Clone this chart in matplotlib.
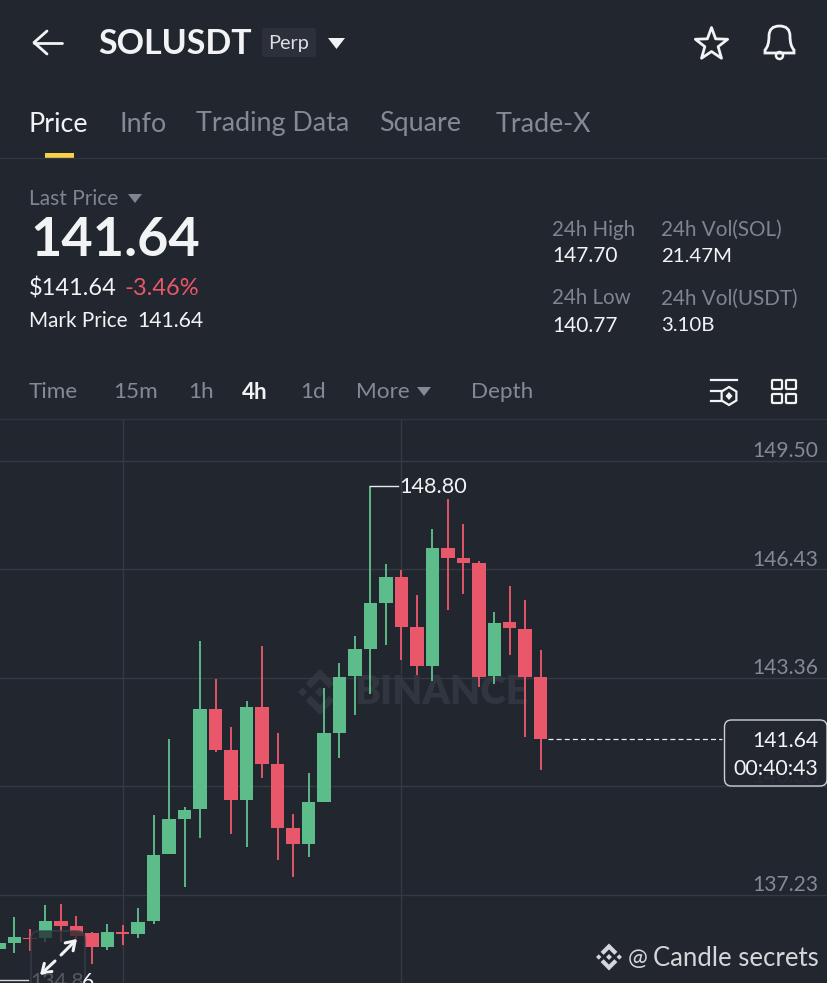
import numpy as np
import matplotlib
matplotlib.use("Agg")
import matplotlib.pyplot as plt
from matplotlib.patches import FancyBboxPatch, Polygon, Rectangle, Circle
from matplotlib.path import Path
from matplotlib.patches import PathPatch

plt.rcParams['font.family'] = ['Lato', 'DejaVu Sans']

# candles, oldest first (4h SOLUSDT)
opens = [135.69, 135.86, 136.01, 136.00, 136.48, 136.34, 136.15, 135.76, 136.18, 136.11,
         136.48, 138.37, 139.37, 139.65, 142.48, 141.33, 139.92, 142.53, 140.93, 139.11,
         138.65, 139.86, 141.80, 143.42, 144.18, 145.47, 146.22, 144.79, 143.69, 147.03,
         146.76, 146.62, 143.42, 144.94, 144.76, 143.38]
closes = [135.85, 136.03, 135.97, 136.48, 136.33, 136.06, 135.76, 136.18, 136.12, 136.46,
          138.36, 139.37, 139.63, 142.48, 141.33, 139.92, 142.54, 140.93, 139.12, 138.65,
          139.86, 141.79, 143.40, 144.17, 145.47, 146.23, 144.80, 143.70, 147.03, 146.76,
          146.62, 143.40, 144.93, 144.77, 143.39, 141.64]
highs = [135.85, 136.60, 136.26, 136.94, 136.97, 136.63, 136.18, 136.40, 136.37, 136.85,
         139.49, 141.64, 139.72, 144.40, 143.32, 141.98, 142.70, 144.27, 141.80, 139.51,
         140.67, 143.09, 143.79, 144.56, 148.80, 146.58, 146.42, 145.70, 147.57, 148.42,
         147.71, 146.66, 145.22, 145.96, 145.57, 144.14]
lows = [135.69, 135.57, 135.64, 135.90, 135.90, 135.95, 135.27, 135.65, 135.80, 136.01,
        136.41, 138.37, 137.45, 138.83, 141.28, 138.94, 138.57, 140.53, 138.21, 137.73,
        138.29, 139.86, 141.09, 142.32, 142.91, 144.29, 143.86, 143.45, 143.28, 145.27,
        145.75, 143.10, 143.20, 144.00, 141.70, 140.77]
y_ticks = [149.50, 146.43, 143.36, 140.30, 137.23]
last_price = 141.64
max_price = 148.80

tabs = ["Price", "Info", "Trading Data", "Square", "Trade-X"]
tab_x = [29, 120, 196, 379, 496]
periods = ["Time", "15m", "1h", "4h", "1d", "More", "Depth"]
period_x = [29, 113, 188, 242, 300, 356, 471]

BG = '#22262F'
GREEN = '#5DBD8A'
RED = '#E9576A'
GRID = '#353943'
WHITE = '#F2F3F5'
GRAY = '#848A94'
LABEL = '#7F858F'

W, H = 828, 983
fig = plt.figure(figsize=(W / 100, H / 100), dpi=100, facecolor=BG)

under = fig.add_axes([0, 0, 1, 1], zorder=0)
under.set_xlim(0, W)
under.set_ylim(H, 0)
under.axis('off')


def logo(a, cx, cy, s, color, zorder=3):
    # exchange diamond mark: centre and side diamonds plus two chevrons
    def diamond(x, y, r):
        a.add_patch(Polygon([(x - r, y), (x, y - r), (x + r, y), (x, y + r)], closed=True,
                            fc=color, ec='none', zorder=zorder))
    diamond(cx, cy, s * 0.22)
    diamond(cx - s * 0.76, cy, s * 0.2)
    diamond(cx + s * 0.76, cy, s * 0.2)
    for sign in (-1, 1):
        a.add_patch(Polygon([(cx - s * 0.62, cy + sign * s * 0.38), (cx, cy + sign * s),
                             (cx + s * 0.62, cy + sign * s * 0.38), (cx + s * 0.40, cy + sign * s * 0.16),
                             (cx, cy + sign * s * 0.56), (cx - s * 0.40, cy + sign * s * 0.16)],
                            closed=True, fc=color, ec='none', zorder=zorder))


# watermark behind the candles
under.text(441, 693, "BINANCE", color='#31353F', fontsize=28, fontweight='heavy',
           ha='center', va='center')
logo(under, 320, 692, 23, '#31353F')

# chart itself
ax = fig.add_axes([0, 0, 1, (H - 420) / H], zorder=1)
ax.patch.set_alpha(0)
step = 15.48
ax.set_xlim(35 - 540.7 / step, 35 + (W - 540.7) / step)
ax.set_ylim(134.73, 150.66)
ax.set_xticks([])
ax.set_yticks([])
for s in ax.spines.values():
    s.set_visible(False)

for t in y_ticks:
    ax.axhline(t, color=GRID, lw=1, zorder=1)
for gx in (123, 401):
    ax.axvline(35 - (540.7 - gx) / step, color=GRID, lw=1, zorder=1)

xs = np.arange(len(opens))
opens_a, closes_a = np.array(opens), np.array(closes)
colors = [GREEN if c >= o else RED for o, c in zip(opens, closes)]
ax.vlines(xs, lows, highs, colors=colors, lw=1.35, zorder=3)
ax.bar(xs, np.abs(closes_a - opens_a), bottom=np.minimum(opens_a, closes_a), width=0.87,
       color=colors, linewidth=0, zorder=4)

# last price dashed line and max marker
ax.plot([35.5, 35 + (722 - 540.7) / step], [last_price, last_price], color='#E8E9EB', lw=0.9,
        dashes=(4, 2.5), zorder=3)
ax.plot([24, 24 + 1.8], [max_price, max_price], color='#E8E9EB', lw=1, zorder=5)
ax.text(24 + 1.85, max_price - 0.04, f"{max_price:.2f}", color=WHITE, fontsize=15.6, va='center', ha='left', zorder=6)

for t in y_ticks:
    ax.text(35 + (818 - 540.7) / step, t + 0.27, f"{t:.2f}", color=GRAY, fontsize=15.1, ha='right', va='center', zorder=2)

# everything around the chart, in pixel coordinates
ui = fig.add_axes([0, 0, 1, 1], zorder=2)
ui.set_xlim(0, W)
ui.set_ylim(H, 0)
ui.axis('off')
ui.patch.set_alpha(0)

ui.plot([34, 62], [42.5, 42.5], color=WHITE, lw=2, solid_capstyle='round')
ui.plot([47, 34, 47], [31, 42.5, 54], color=WHITE, lw=2, solid_capstyle='round', solid_joinstyle='round')
ui.text(98.5, 44.5, "SOLUSDT", color=WHITE, fontsize=24.5, fontweight='bold', va='center', ha='left')
ui.add_patch(FancyBboxPatch((262, 28), 54, 29, boxstyle="round,pad=0,rounding_size=3", fc='#2C303A', ec='none'))
ui.text(289, 44, "Perp", color='#DDDFE3', fontsize=14.3, va='center', ha='center')
ui.add_patch(Polygon([(328, 38), (345, 38), (336.5, 49)], closed=True, fc=WHITE, ec='none'))

star_r = np.array([17, 7] * 5)
star_a = np.deg2rad(np.arange(10) * 36 - 90)
ui.add_patch(Polygon(np.c_[711.5 + star_r * np.cos(star_a), 44.5 + star_r * np.sin(star_a)], closed=True,
                     fc='none', ec=WHITE, lw=2, joinstyle='round'))

bell = Path([(765, 53), (765, 50), (769, 46), (769, 36), (769, 26), (779.5, 26), (790, 26), (790, 36),
             (790, 46), (794, 50), (794, 53), (765, 53)],
            [Path.MOVETO, Path.LINETO, Path.CURVE3, Path.CURVE3, Path.CURVE3, Path.CURVE3, Path.CURVE3,
             Path.CURVE3, Path.CURVE3, Path.CURVE3, Path.LINETO, Path.CLOSEPOLY])
ui.add_patch(PathPatch(bell, fc='none', ec=WHITE, lw=2))
ui.add_patch(Circle((779.5, 55.5), 3.5, fc='none', ec=WHITE, lw=1.8))

for name, x in zip(tabs, tab_x):
    ui.text(x, 124, name, color=WHITE if name == "Price" else GRAY, fontsize=19.4, va='center', ha='left')
ui.add_patch(Rectangle((45, 153), 29, 5, fc='#F8D24A', ec='none'))
ui.plot([0, W], [158, 158], color='#31353F', lw=1)

ui.text(29, 199, "Last Price", color=LABEL, fontsize=15, va='center')
ui.add_patch(Polygon([(128, 194), (142, 194), (135, 203)], closed=True, fc=LABEL, ec='none'))
ui.text(30.5, 240, "141.64", color=WHITE, fontsize=39, fontweight='bold', va='center')
ui.text(29, 288.5, "$141.64", color=WHITE, fontsize=17, va='center')
ui.text(125, 288.5, "-3.46%", color=RED, fontsize=17, va='center')
ui.text(29, 321, "Mark Price", color=WHITE, fontsize=14.9, va='center')
ui.text(137, 321, "141.64", color=WHITE, fontsize=15.2, va='center')

ui.text(552, 229.5, "24h High", color=LABEL, fontsize=14.8, va='center')
ui.text(552, 256.5, "147.70", color=WHITE, fontsize=15, va='center')
ui.text(552, 298.5, "24h Low", color=LABEL, fontsize=14.8, va='center')
ui.text(552, 325.5, "140.77", color=WHITE, fontsize=15, va='center')
ui.text(661, 229.5, "24h Vol(SOL)", color=LABEL, fontsize=14.9, va='center')
ui.text(661, 256.5, "21.47M", color=WHITE, fontsize=14.7, va='center')
ui.text(661, 298.5, "24h Vol(USDT)", color=LABEL, fontsize=14.9, va='center')
ui.text(661, 325.5, "3.10B", color=WHITE, fontsize=14.7, va='center')

for name, x in zip(periods, period_x):
    active = name == "4h"
    ui.text(x, 392.5, name, color=WHITE if active else GRAY, fontsize=16.2,
            fontweight='bold' if active else 'normal', va='center')
ui.add_patch(Polygon([(417, 387), (431, 387), (424, 396)], closed=True, fc=GRAY, ec='none'))
ui.plot([0, W], [419, 419], color='#31353F', lw=1)

# indicator and layout icons
ui.plot([711, 737], [380, 380], color=WHITE, lw=1.6)
ui.plot([711, 722], [391, 391], color=WHITE, lw=1.6)
ui.plot([711, 722], [401, 401], color=WHITE, lw=1.6)
hex_a = np.deg2rad(np.arange(6) * 60 - 90)
ui.add_patch(Polygon(np.c_[729 + 8.5 * np.cos(hex_a), 396 + 9 * np.sin(hex_a)], closed=True, fc='none', ec=WHITE, lw=1.6))
ui.add_patch(Polygon([(729, 392), (732.5, 396), (729, 400), (725.5, 396)], closed=True, fc=WHITE, ec='none'))
for bx in (772, 786):
    for by in (380, 394):
        ui.add_patch(FancyBboxPatch((bx, by), 10, 9, boxstyle="round,pad=0,rounding_size=1",
                                    fc='none', ec=WHITE, lw=1.6))

# last price tag
ui.add_patch(FancyBboxPatch((724.5, 720), 102.5, 66, boxstyle="round,pad=0,rounding_size=7",
                            fc=BG, ec='#DADCE0', lw=1, alpha=0.93))
ui.text(818, 741, "141.64", color=WHITE, fontsize=15.2, ha='right', va='center')
ui.text(818, 769, "00:40:43", color=WHITE, fontsize=15.3, ha='right', va='center')

# expand button, bottom left
ui.add_patch(FancyBboxPatch((31, 931), 54, 60, boxstyle="round,pad=0,rounding_size=8",
                            fc=BG, ec='#3B3F49', lw=1.2, alpha=0.75))
ui.annotate("", xy=(77, 939), xytext=(61, 955),
            arrowprops=dict(arrowstyle='->,head_length=0.6,head_width=0.4', color=WHITE, lw=2.2, shrinkA=0, shrinkB=0))
ui.annotate("", xy=(40, 975), xytext=(55, 961),
            arrowprops=dict(arrowstyle='->,head_length=0.6,head_width=0.4', color=WHITE, lw=2.2, shrinkA=0, shrinkB=0))
ui.plot([0, 28], [979.5, 979.5], color='#D8DADD', lw=1)
ui.text(30, 982, "134.8", color='#565A63', fontsize=15.1, va='center')
ui.text(82, 982, "6", color=WHITE, fontsize=15.1, va='center')

# credit, bottom right
logo(ui, 609, 957, 13.5, '#D5D6D9')
ui.text(628, 958.5, "@", color='#D5D6D9', fontsize=17, va='center')
ui.text(653, 958.5, "Candle secrets", color='#D5D6D9', fontsize=18.5, va='center')

fig.savefig("out.png", dpi=100, facecolor=BG)
plt.close(fig)
